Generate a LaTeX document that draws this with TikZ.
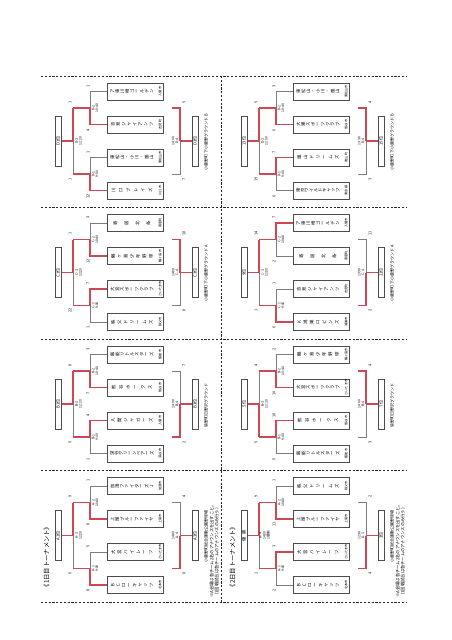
\documentclass[tikz,border=0pt]{standalone}
\usepackage{fontspec}
\setmainfont{Noto Sans CJK JP}
\definecolor{winred}{RGB}{204,72,84}
\definecolor{lgray}{RGB}{125,125,125}
\tikzset{
  gl/.style={draw=lgray, line width=0.5pt},
  rl/.style={draw=winred, line width=1.1pt},
  divline/.style={draw=black!85, line width=0.8pt, dash pattern=on 2.2pt off 1.6pt},
  tbox/.style={draw=black!70, line width=0.4pt, fill=white, minimum width=56pt, minimum height=17pt, inner sep=0pt},
  fbox/.style={draw=black!70, line width=0.4pt, fill=white, minimum width=50pt, minimum height=6.6pt, inner sep=0pt, font=\fontsize{4.2}{4.6}\selectfont, rotate=90},
  tch/.style={font=\fontsize{4.4}{5}\selectfont, rotate=90, inner sep=0pt},
  city/.style={font=\fontsize{3.2}{3.6}\selectfont, rotate=90, inner sep=0pt, anchor=south},
  mlab/.style={font=\fontsize{3.4}{3.9}\selectfont, rotate=90, inner sep=0pt, align=center},
  score/.style={font=\fontsize{3.8}{4}\selectfont, rotate=90, inner sep=0pt},
  venue/.style={font=\fontsize{4}{4.5}\selectfont, rotate=90, inner sep=0pt},
  titletxt/.style={font=\fontsize{6.3}{7}\selectfont, rotate=90, inner sep=0pt},
  note/.style={font=\fontsize{4.3}{5}\selectfont, rotate=90, inner sep=0pt, align=left, anchor=north west},
}
% team name: #1 box node, #2 comma list of characters, #3 city
\newcommand\tnm[3]{%
  \gdef\tcnt{0}%
  \foreach \c in {#2}{\xdef\tcnt{\the\numexpr\tcnt+1\relax}}%
  \foreach \c [count=\i] in {#2}{%
    \node[tch] (#1-ch\i) at ([xshift={3+(\i-0.5)*44/\tcnt}]#1.west) {\c};}%
  \node[city] (#1-city) at ([xshift=-1.5pt]#1.east) {#3};%
}
% bracket block: #1 X0, #2 Y0, #3 id, #4 w12, #5 w34, #6 final winner (12/34), #7 third winner (12/34)
\newcommand\blk[7]{%
  \foreach \k/\yy in {1/15.5,2/48.5,3/81.5,4/114.5}{%
    \node[tbox,anchor=west] (#3-t\k) at (#1+66,#2+\yy) {};
    \coordinate (#3-c\k) at (#1+49,#2+\yy);}
  \coordinate (#3-m12) at (#1+49,#2+32);
  \coordinate (#3-m34) at (#1+49,#2+98);
  \coordinate (#3-e12) at (#1+32,#2+32);
  \coordinate (#3-e34) at (#1+32,#2+98);
  \coordinate (#3-q) at (#1+32,#2+65);
  \coordinate (#3-s12) at (#1+131,#2+32);
  \coordinate (#3-s34) at (#1+131,#2+98);
  \coordinate (#3-v12) at (#1+139,#2+32);
  \coordinate (#3-v34) at (#1+139,#2+98);
  \coordinate (#3-r) at (#1+139,#2+65);
  \draw[gl] (#3-t1.west) -- (#3-c1) -- (#3-c2) -- (#3-t2.west);
  \draw[gl] (#3-t3.west) -- (#3-c3) -- (#3-c4) -- (#3-t4.west);
  \draw[gl] (#3-m12) -- (#3-e12) -- (#3-e34) -- (#3-m34);
  \draw[gl] (#3-s12) -- (#3-v12) -- (#3-v34) -- (#3-s34);
  \draw[rl] (#3-t#4.west) -- (#3-c#4) -- (#3-m12) -- (#3-e12);
  \draw[rl] (#3-t#5.west) -- (#3-c#5) -- (#3-m34) -- (#3-e34);
  \draw[rl] (#3-e#6) -- (#3-q);
  \draw[rl] (#3-s#7) -- (#3-v#7) -- (#3-r);
}
% final boxes & labels: #1 X0, #2 Y0, #3 id, #4 final box, #5 third box, #6 venue
\newcommand\blkbox[6]{%
  \node[fbox] (#3-f) at (#1+17,#2+65) {#4};
  \node[fbox] (#3-p) at (#1+154,#2+65) {#5};
  \draw[rl] (#3-q) -- (#3-f.south);
  \draw[rl] (#3-r) -- (#3-p.north);
  \node[venue] (#3-venue) at (#1+165,#2+66) {#6};
}
% match labels: #1 X0, #2 Y0, #3 id, #4 upper, #5 lower, #6 final, #7 third
\newcommand\blklab[7]{%
  \node[mlab] (#3-l12) at (#1+54,#2+32) {#4};
  \node[mlab] (#3-l34) at (#1+54,#2+98) {#5};
  \node[mlab] (#3-lf) at (#1+37.5,#2+65) {#6};
  \node[mlab] (#3-lp) at (#1+134,#2+65) {#7};
}
% scores: #1 X0, #2 Y0, #3 id, #4..#7 first round, #8 #9 final
\newcommand\blksc[9]{%
  \node[score] (#3-n1) at (#1+47,#2+10) {#4};
  \node[score] (#3-n2) at (#1+47,#2+54) {#5};
  \node[score] (#3-n3) at (#1+47,#2+76) {#6};
  \node[score] (#3-n4) at (#1+47,#2+120) {#7};
  \node[score] (#3-n5) at (#1+29,#2+26) {#8};
  \node[score] (#3-n6) at (#1+29,#2+103) {#9};
}
\newcommand\blkscp[4]{%
  \node[score] (#1-n7) at (#2+143,#3+26) {#4};
}
\newcommand\blkscq[4]{%
  \node[score] (#1-n8) at (#2+143,#3+103) {#4};
}
\begin{document}
\begin{tikzpicture}[x=1pt,y=-1pt]
\useasboundingbox (0,0) rectangle (452,640);
\fill[white] (0,0) rectangle (452,640);
% dividers
\coordinate (L0) at (41,76);   \coordinate (R0) at (407,76);
\coordinate (L1) at (41,207.5);\coordinate (R1) at (407,207.5);
\coordinate (L2) at (41,339);  \coordinate (R2) at (407,339);
\coordinate (L3) at (41,470.5);\coordinate (R3) at (407,470.5);
\coordinate (L4) at (41,602);  \coordinate (R4) at (407,602);
\coordinate (MT) at (221,76);  \coordinate (MB) at (221,602);
\foreach \i in {0,...,4}{\draw[divline] (L\i) -- (R\i);}
\draw[divline] (MT) -- (MB);

% ================= DAY 1 =================
\blk{41}{76}{aD}{2}{4}{12}{12}
\blk{41}{207.5}{aC}{2}{3}{12}{12}
\blk{41}{339}{aB}{2}{3}{12}{34}
\blk{41}{470.5}{aA}{2}{4}{12}{34}
\blkbox{41}{76}{aD}{D1位}{D3位}{小鹿野町 下小鹿野グラウンド B}
\blkbox{41}{207.5}{aC}{C1位}{C3位}{小鹿野町 下小鹿野グラウンド A}
\blkbox{41}{339}{aB}{B1位}{B3位}{皆野町日野沢グラウンド}
\blkbox{41}{470.5}{aA}{A1位}{A3位}{小鹿野町総合運動公園野球場}
\blklab{41}{76}{aD}{D-2\\10:40}{D-1\\9:00}{D-3\\12:20}{14:00\\D-4}
\blklab{41}{207.5}{aC}{C-2\\10:40}{C-1\\9:00}{C-3\\12:20}{14:00\\C-4}
\blklab{41}{339}{aB}{B-2\\10:40}{B-1\\9:00}{B-3\\12:20}{14:00\\B-4}
\blklab{41}{470.5}{aA}{A-2\\10:40}{A-1\\9:00}{A-3\\12:20}{14:00\\A-4}
\blksc{41}{76}{aD}{1}{4}{1}{12}{1}{1}
\blkscp{aD}{41}{76}{5}\blkscq{aD}{41}{76}{7}
\blksc{41}{207.5}{aC}{3}{12}{7}{1}{1}{22}
\blkscp{aC}{41}{207.5}{18}\blkscq{aC}{41}{207.5}{8}
\blksc{41}{339}{aB}{3}{7}{4}{1}{8}{5}
\blkscp{aB}{41}{339}{7}\blkscq{aB}{41}{339}{2}
\blksc{41}{470.5}{aA}{1}{8}{5}{8}{9}{5}
\blkscp{aA}{41}{470.5}{4}\blkscq{aA}{41}{470.5}{8}

\tnm{aD-t1}{ア,東,川,崎,ゴ,ー,ル,デ,ン}{入間市}
\tnm{aD-t2}{吉,見,ジ,ャ,イ,ア,ン,ツ}{吉見町}
\tnm{aD-t3}{東,松,山,・,小,川,・,嵐,山}{東松山市}
\tnm{aD-t4}{川,口,ブ,レ,イ,ズ}{川口市}
\tnm{aC-t1}{寄,居,北,条}{寄居町}
\tnm{aC-t2}{鶴,ヶ,島,少,年,野,球}{鶴ヶ島市}
\tnm{aC-t3}{大,宮,ス,ポ,ー,ツ,ク,ラ,ブ}{さいたま市}
\tnm{aC-t4}{秩,父,ド,リ,ー,ム,ズ}{秩父市}
\tnm{aB-t1}{飯,能,リ,ト,ル,ス,タ,ー,ズ}{飯能市}
\tnm{aB-t2}{熊,谷,ホ,ー,ク,ス}{熊谷市}
\tnm{aB-t3}{入,間,ジ,ャ,ガ,ー,ズ}{入間市}
\tnm{aB-t4}{深,谷,グ,リ,ー,ン,ベ,ア,ー,ズ}{深谷市}
\tnm{aA-t1}{加,須,フ,ァ,イ,タ,ー,ズ,Ｊ}{加須市}
\tnm{aA-t2}{上,尾,ブ,ル,ー,フ,ァ,イ,ヤ}{上尾市}
\tnm{aA-t3}{大,宮,パ,イ,レ,ー,ツ}{さいたま市}
\tnm{aA-t4}{Ｂ,Ｃ,ロ,ー,キ,ャ,ッ,ツ}{北本市}

\node[titletxt] (t1) at (46.5,557) {《1日目トーナメント》};
\node[note] (n1) at (209.5,598) {※A会場は各チーム2名のアナウンスを出すこと。\\（1回戦試合は各チームのアナウンスのみ行う）};

% ================= DAY 2 =================
\blk{227}{76}{bD}{2}{3}{12}{12}
\blk{227}{207.5}{bC}{1}{4}{12}{34}
\blk{227}{339}{bB}{2}{3}{34}{12}
\blk{227}{470.5}{bA}{2}{3}{12}{34}
\blkbox{227}{76}{bD}{13位}{15位}{小鹿野町 下小鹿野グラウンド B}
\blkbox{227}{207.5}{bC}{9位}{11位}{小鹿野町 下小鹿野グラウンド A}
\blkbox{227}{339}{bB}{5位}{7位}{皆野町日野沢グラウンド}
\blkbox{227}{470.5}{bA}{優\hspace{3pt}勝}{3位}{小鹿野町総合運動公園野球場}
\blklab{227}{76}{bD}{D-2\\10:40}{D-1\\9:00}{D-3\\11:50}{13:30\\D-4}
\blklab{227}{207.5}{bC}{C-2\\10:40}{C-1\\9:00}{C-3\\11:50}{13:30\\C-4}
\blklab{227}{339}{bB}{B-2\\10:40}{B-1\\9:00}{B-3\\12:20}{14:00\\B-4}
\blklab{227}{470.5}{bA}{A-2\\10:40}{A-1\\9:00}{A-4\\14:00\\1塁側}{12:30\\A-3}
\blksc{227}{76}{bD}{3}{6}{7}{6}{5}{19}
\blkscp{bD}{227}{76}{4}\blkscq{bD}{227}{76}{3}
\blksc{227}{207.5}{bC}{7}{2}{1}{6}{14}{1}
\blkscp{bC}{227}{207.5}{11}\blkscq{bC}{227}{207.5}{2}
\blksc{227}{339}{bB}{2}{10}{10}{5}{4}{5}
\blkscp{bB}{227}{339}{4}\blkscq{bB}{227}{339}{3}
\blksc{227}{470.5}{bA}{1}{11}{3}{2}{9}{1}
\blkscp{bA}{227}{470.5}{2}\blkscq{bA}{227}{470.5}{4}

\tnm{bD-t1}{東,松,山,・,小,川,・,嵐,山}{東松山市}
\tnm{bD-t2}{大,里,ス,ポ,ー,ツ,ク,ラ,ブ}{熊谷市}
\tnm{bD-t3}{嵐,山,ド,リ,ー,ム,ズ}{嵐山町}
\tnm{bD-t4}{東,京,ワ,イ,ル,ド,キ,ャ,ッ,ツ}{東京都}
\tnm{bC-t1}{ア,東,川,崎,ゴ,ー,ル,デ,ン}{入間市}
\tnm{bC-t2}{寄,居,北,条}{寄居町}
\tnm{bC-t3}{吉,見,ジ,ャ,イ,ア,ン,ツ}{吉見町}
\tnm{bC-t4}{K,鴻,巣,ロ,ビ,ン,ズ}{鴻巣市}
\tnm{bB-t1}{鶴,ヶ,島,少,年,野,球}{鶴ヶ島市}
\tnm{bB-t2}{大,宮,ス,ポ,ー,ツ,ク,ラ,ブ}{さいたま市}
\tnm{bB-t3}{熊,谷,ホ,ー,ク,ス}{熊谷市}
\tnm{bB-t4}{飯,能,リ,ト,ル,ス,タ,ー,ズ}{飯能市}
\tnm{bA-t1}{秩,父,ド,リ,ー,ム,ズ}{秩父市}
\tnm{bA-t2}{上,尾,ブ,ル,ー,フ,ァ,イ,ヤ}{上尾市}
\tnm{bA-t3}{大,宮,パ,イ,レ,ー,ツ}{さいたま市}
\tnm{bA-t4}{Ｂ,Ｃ,ロ,ー,キ,ャ,ッ,ツ}{北本市}

\node[titletxt] (t2) at (232.5,557) {《2日目トーナメント》};
\node[note] (n2) at (395.5,598) {※A会場は各チーム2名のアナウンスを出すこと。\\（1回戦試合は各チームのアナウンスのみ行う）};
\end{tikzpicture}
\end{document}
